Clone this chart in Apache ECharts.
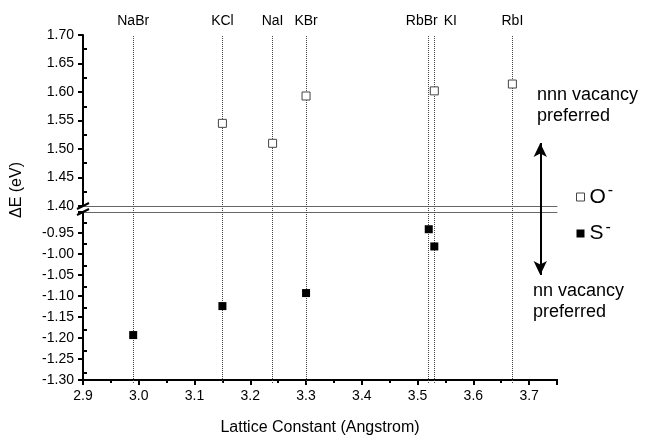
<!DOCTYPE html>
<html>
<head>
<meta charset="utf-8">
<script src="https://cdn.jsdelivr.net/npm/echarts@6/dist/echarts.min.js"></script>
<style>
  html, body { margin: 0; padding: 0; background: #fff; }
  #chart { width: 652px; height: 437px; }
</style>
</head>
<body>
<div id="chart"></div>
<script>
// salts and their lattice constants (vertical reference lines)
const saltNames = ['NaBr', 'KCl', 'NaI', 'KBr', 'RbBr', 'KI', 'RbI'];
const latticeConst = [2.99, 3.15, 3.24, 3.30, 3.52, 3.53, 3.67];

// O- centre (open squares), upper panel
const oMinusX = [3.15, 3.24, 3.30, 3.53, 3.67];
const oMinusDE = [1.545, 1.510, 1.593, 1.602, 1.614];

// S- centre (filled squares), lower panel
const sMinusX = [2.99, 3.15, 3.30, 3.52, 3.53];
const sMinusDE = [-1.193, -1.124, -1.093, -0.941, -0.982];

// axis ranges / ticks
const xRange = [2.9, 3.75];
const xMinorTicks = [2.95, 3.05, 3.15, 3.25, 3.35, 3.45, 3.55, 3.65, 3.75];
const upperRange = [1.40, 1.70];
const upperMinorTicks = [1.425, 1.475, 1.525, 1.575, 1.625, 1.675];
const lowerRange = [-1.30, -0.90];
const lowerMinorTicks = [-1.275, -1.225, -1.175, -1.125, -1.075, -1.025, -0.975, -0.925];

const FONT = 'Liberation Sans, Arial, sans-serif';
const GRAY = '#666';

const chart = echarts.init(document.getElementById('chart'));

const gridPos = { left: 83, right: 95 };
const upperBox = { ...gridPos, top: 35, height: 171 };
const lowerBox = { ...gridPos, top: 212, height: 171 };
const mainLine = { show: true, lineStyle: { color: '#000', width: 2 } };
const outTick = { show: true, inside: false, length: 5, lineStyle: { color: '#000', width: 2 } };
const inTick = { show: true, inside: true, length: 4, lineStyle: { color: '#000', width: 2 } };
const tickLabel = { color: '#000', fontSize: 14, fontFamily: FONT };
const hidden = (gridIndex, range) => ({ gridIndex, type: 'value', min: range[0], max: range[1], show: false });
const minorAxis = (gridIndex, range, pos, ticks) => ({
  gridIndex, type: 'value', min: range[0], max: range[1], position: pos,
  axisLine: { show: false, onZero: false }, axisLabel: { show: false }, splitLine: { show: false },
  axisTick: { ...inTick, customValues: ticks }
});

// label nudges so RbBr / KI do not overlap
const labelShift = { RbBr: -7, KI: 16 };

const option = {
  animation: false,
  textStyle: { fontFamily: FONT },
  grid: [
    upperBox,                               // 0 upper panel
    lowerBox,                               // 1 lower panel
    { ...gridPos, top: 35, bottom: 54 },    // 2 full-height overlay
    { ...upperBox },                        // 3 upper minor ticks
    { ...lowerBox }                         // 4 lower minor ticks
  ],
  xAxis: [
    { gridIndex: 0, type: 'value', min: xRange[0], max: xRange[1], position: 'bottom',
      axisLine: { show: true, onZero: false, lineStyle: { color: GRAY, width: 1 } },
      axisTick: { show: false }, axisLabel: { show: false }, splitLine: { show: false } },
    { gridIndex: 1, type: 'value', min: xRange[0], max: xRange[1], interval: 0.1, position: 'bottom',
      axisLine: { ...mainLine, onZero: false }, axisTick: outTick, splitLine: { show: false },
      axisLabel: { ...tickLabel, margin: 9, formatter: v => v > 3.71 ? '' : v.toFixed(1) },
      name: 'Lattice Constant (Angstrom)', nameLocation: 'middle', nameGap: 40,
      nameTextStyle: { color: '#000', fontSize: 16, fontFamily: FONT } },
    { gridIndex: 1, type: 'value', min: xRange[0], max: xRange[1], position: 'top',
      axisLine: { show: true, onZero: false, lineStyle: { color: GRAY, width: 1 } },
      axisTick: { show: false }, axisLabel: { show: false }, splitLine: { show: false } },
    hidden(2, xRange),
    hidden(3, xRange),
    minorAxis(4, xRange, 'bottom', xMinorTicks)
  ],
  yAxis: [
    { gridIndex: 0, type: 'value', min: upperRange[0], max: upperRange[1], interval: 0.05, position: 'left',
      axisLine: mainLine, axisTick: outTick, splitLine: { show: false },
      axisLabel: { ...tickLabel, margin: 9, formatter: v => v.toFixed(2) } },
    { gridIndex: 1, type: 'value', min: lowerRange[0], max: lowerRange[1], interval: 0.05, position: 'left',
      axisLine: mainLine, axisTick: outTick, splitLine: { show: false },
      axisLabel: { ...tickLabel, margin: 9, formatter: v => v > -0.91 ? '' : v.toFixed(2) } },
    hidden(2, [0, 1]),
    minorAxis(3, upperRange, 'left', upperMinorTicks),
    minorAxis(4, lowerRange, 'left', lowerMinorTicks)
  ],
  legend: {
    orient: 'vertical', left: 571, top: 178, itemGap: 12,
    itemWidth: 8, itemHeight: 8, itemStyle: { borderWidth: 1 },
    data: ['O-', 'S-'],
    formatter: name => '{m|' + name[0] + '}{s|-}',
    textStyle: {
      color: '#000',
      rich: {
        m: { fontSize: 21, fontFamily: FONT, lineHeight: 24 },
        s: { fontSize: 16, fontFamily: FONT, padding: [0, 0, 12, 2] }
      }
    }
  },
  series: [
    {
      // vertical reference lines + arrow on the full-height overlay grid
      type: 'scatter', xAxisIndex: 3, yAxisIndex: 2, data: [], silent: true,
      markLine: {
        silent: true, symbol: 'none',
        lineStyle: { color: '#444', width: 1, type: 'dotted' },
        label: {
          show: true, position: 'end', distance: 7, formatter: '{b}',
          color: '#000', fontSize: 14, fontFamily: FONT
        },
        data: latticeConst.map((x, i) => ({
          name: saltNames[i], xAxis: x,
          label: { offset: [labelShift[saltNames[i]] || 0, 0] }
        })).concat([[
          { coord: [3.72, 0.31], symbol: 'arrow', symbolSize: [10, 14],
            lineStyle: { color: '#000', width: 2, type: 'solid' }, label: { show: false } },
          { coord: [3.72, 0.69], symbol: 'arrow', symbolSize: [10, 14] }
        ]])
      }
    },
    {
      name: 'O-', type: 'scatter', xAxisIndex: 0, yAxisIndex: 0,
      symbol: 'rect', symbolSize: 8,
      itemStyle: { color: '#fff', borderColor: '#444', borderWidth: 1, opacity: 1 },
      data: oMinusX.map((x, i) => [x, oMinusDE[i]]), z: 5
    },
    {
      name: 'S-', type: 'scatter', xAxisIndex: 1, yAxisIndex: 1,
      symbol: 'rect', symbolSize: 8,
      itemStyle: { color: '#000', opacity: 1 },
      data: sMinusX.map((x, i) => [x, sMinusDE[i]]), z: 5
    }
  ]
};

chart.setOption(option);

// axis break marks and free text
const yTop = chart.convertToPixel({ gridIndex: 0 }, [xRange[0], upperRange[0]]);
const yBot = chart.convertToPixel({ gridIndex: 1 }, [xRange[0], lowerRange[1]]);
const brk = p => ({
  type: 'line', z: 100,
  shape: { x1: p[0] - 6, y1: p[1] + 3, x2: p[0] + 6, y2: p[1] - 3 },
  style: { stroke: '#000', lineWidth: 2 }
});

chart.setOption({
  graphic: [
    brk(yTop), brk(yBot),
    { type: 'text', left: 537, top: 85,
      style: { text: 'nnn vacancy\npreferred', fontSize: 18, fontFamily: FONT, fill: '#000', lineHeight: 21 } },
    { type: 'text', left: 533, top: 281,
      style: { text: 'nn vacancy\npreferred', fontSize: 18, fontFamily: FONT, fill: '#000', lineHeight: 21 } },
    { type: 'text', x: 17, y: 190, rotation: Math.PI / 2, originX: 0, originY: 0,
      style: { text: 'ΔE (eV)', fontSize: 16, fontFamily: FONT, fill: '#000',
               align: 'center', verticalAlign: 'middle' } }
  ]
});
</script>
</body>
</html>
